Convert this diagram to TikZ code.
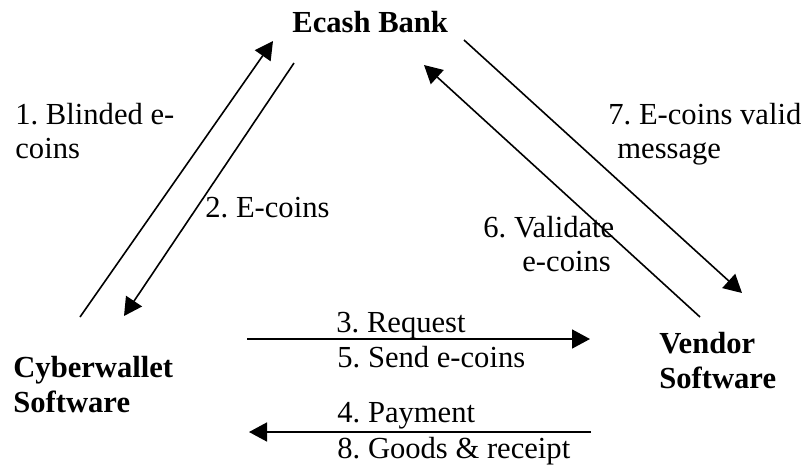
\documentclass[tikz,border=0pt]{standalone}
\usepackage{fontspec}
\setmainfont{Liberation Serif}
\usetikzlibrary{arrows.meta}
\begin{document}
\frenchspacing
\begin{tikzpicture}[x=0.5pt,y=-0.5pt,
  lbl/.style={anchor=base west,inner sep=0pt,font=\fontsize{15.3pt}{18pt}\selectfont},
  party/.style={lbl,font=\fontsize{15.3pt}{18pt}\selectfont\bfseries},
  flow/.style={line width=0.8pt,-{Triangle[length=9pt,width=9.5pt]}}]
\useasboundingbox (0,0) rectangle (808,467);
% parties
\node[party] (bank) at (292,32) {Ecash Bank};
\node[party] (cw1) at (13,377) {Cyberwallet};
\node[party] (cw2) at (13,412) {Software};
\node[party] (vs1) at (659,353) {Vendor};
\node[party] (vs2) at (659,388) {Software};
% labels
\node[lbl] (l1a) at (15,124) {1. Blinded e-};
\node[lbl] (l1b) at (15,158) {coins};
\node[lbl] (l2) at (205,217) {2. E-coins};
\node[lbl] (l7a) at (608,124) {7. E-coins valid};
\node[lbl] (l7b) at (617,158) {message};
\node[lbl] (l6a) at (483,237) {6. Validate};
\node[lbl] (l6b) at (522,271) {e-coins};
\node[lbl] (l3) at (336,332) {3. Request};
\node[lbl] (l5) at (337,367) {5. Send e-coins};
\node[lbl] (l4) at (337,422) {4. Payment};
\node[lbl] (l8) at (337,458) {8. Goods \& receipt};
% arrow end points
\coordinate (a1s) at (80,317);  \coordinate (a1e) at (273,41);
\coordinate (a2s) at (294,63);  \coordinate (a2e) at (124,316);
\coordinate (a6s) at (700,317); \coordinate (a6e) at (424,65);
\coordinate (a7s) at (464,40);  \coordinate (a7e) at (742,293);
\coordinate (a3s) at (247,339); \coordinate (a3e) at (590,339);
\coordinate (a4s) at (591,432); \coordinate (a4e) at (249,432);
% arrows
\draw[flow] (a1s) -- (a1e);
\draw[flow] (a2s) -- (a2e);
\draw[flow] (a6s) -- (a6e);
\draw[flow] (a7s) -- (a7e);
\draw[flow] (a3s) -- (a3e);
\draw[flow] (a4s) -- (a4e);
\end{tikzpicture}
\end{document}
